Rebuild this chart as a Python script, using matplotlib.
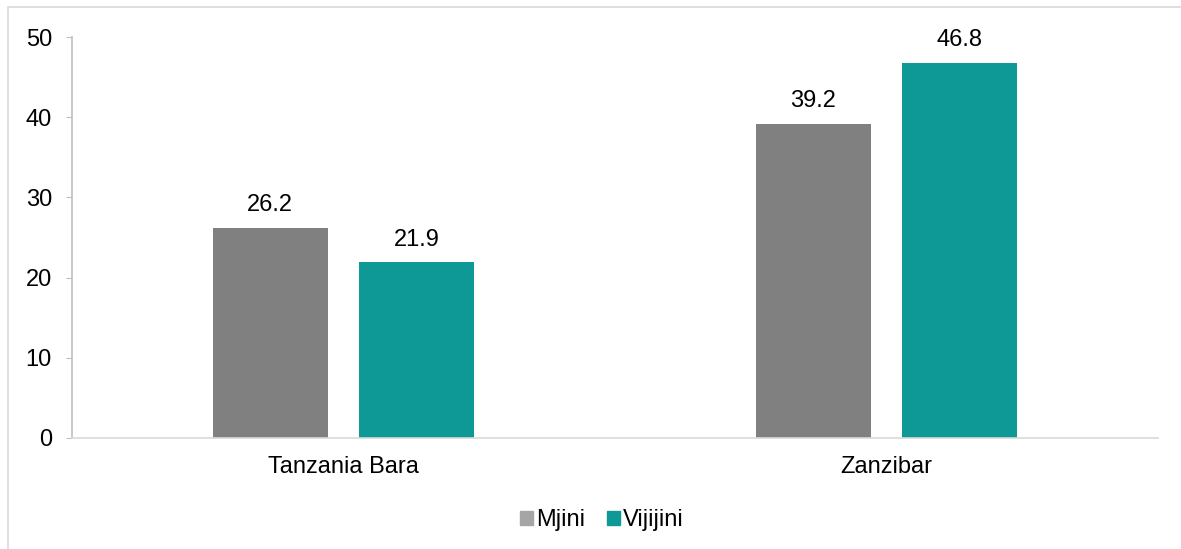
import matplotlib
matplotlib.use("Agg")
import matplotlib.pyplot as plt
from matplotlib.patches import Rectangle, Patch
import numpy as np

plt.rcParams['font.family'] = ['Liberation Sans', 'DejaVu Sans']

categories = ["Tanzania Bara", "Zanzibar"]
series_names = ["Mjini", "Vijijini"]
mjini = [26.2, 39.2]
vijijini = [21.9, 46.8]
colors = ["#808080", "#0E9996"]
legend_colors = ["#A5A5A5", "#0E9996"]

FS = 17

fig = plt.figure(figsize=(11.81, 5.49), dpi=100)
fig.patches.append(Rectangle((8/1181, -0.1), 1.2, 1 - 7/549 + 0.1, transform=fig.transFigure,
                             fill=False, edgecolor="#D9D9D9", linewidth=1.2))
ax = fig.add_axes([72/1181, 1 - 438/549, (1158 - 72)/1181, (438 - 37)/549])

x = np.arange(len(categories))
w = 0.212
off = 0.135
b1 = ax.bar(x - off, mjini, w, color=colors[0])
b2 = ax.bar(x + off, vijijini, w, color=colors[1])
for bars, vals in ((b1, mjini), (b2, vijijini)):
    for r, v in zip(bars, vals):
        ax.annotate(f"{v:.1f}", (r.get_x() + r.get_width()/2, v), xytext=(0, 8.5),
                    textcoords="offset points", ha="center", va="bottom", fontsize=FS)

ax.set_xlim(-0.5, 1.5)
ax.set_ylim(0, 50)
ax.set_yticks(range(0, 51, 10))
ax.set_xticks(x)
ax.set_xticklabels(categories)
ax.tick_params(axis='y', length=4.5, color="#BFBFBF", labelsize=FS, pad=10)
ax.tick_params(axis='x', length=0, labelsize=FS, pad=13)
for s in ("top", "right"):
    ax.spines[s].set_visible(False)
ax.spines["left"].set_color("#BFBFBF")
ax.spines["bottom"].set_color("#D9D9D9")
ax.spines["left"].set_linewidth(1.2)
ax.spines["bottom"].set_linewidth(1.2)

handles = [Patch(color=c, label=n) for c, n in zip(legend_colors, series_names)]
fig.legend(handles=handles, loc="center", bbox_to_anchor=(602/1181, 1 - 520/549), ncol=2,
           frameon=False, fontsize=FS, handlelength=0.55, handleheight=0.55, handletextpad=0.15,
           columnspacing=0.9)

fig.savefig("out.png", dpi=100)
